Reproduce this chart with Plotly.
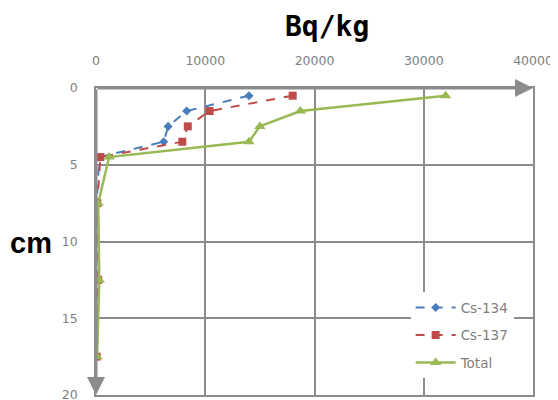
import plotly.graph_objects as go

depth = [0.5, 1.5, 2.5, 3.5, 4.5, 7.5, 12.5, 17.5]
cs134 = [14000, 8300, 6600, 6200, 300, 60, 40, 20]
cs137 = [18000, 10400, 8400, 7900, 400, 120, 200, 60]
total = [32000, 18700, 15000, 14000, 1200, 200, 300, 100]

x_ticks = [0, 10000, 20000, 30000, 40000]
y_ticks = [0, 5, 10, 15, 20]

GRID = "#8c8c8c"
TICKFONT = dict(family="DejaVu Sans", size=12.5, color="#7f7f7f")

fig = go.Figure()
fig.add_trace(go.Scatter(x=cs134, y=depth, name="Cs-134", mode="lines+markers",
                         legendgroup="a",
                         line=dict(color="#4a7ebb", width=2, dash="dash"),
                         marker=dict(symbol="diamond", size=7, color="#4a7ebb")))
fig.add_trace(go.Scatter(x=cs137, y=depth, name="Cs-137", mode="lines+markers",
                         legendgroup="b",
                         line=dict(color="#be4b48", width=2, dash="dash"),
                         marker=dict(symbol="square", size=8, color="#be4b48")))
fig.add_trace(go.Scatter(x=total, y=depth, name="Total", mode="lines+markers",
                         legendgroup="c",
                         line=dict(color="#98b954", width=2.5),
                         marker=dict(symbol="triangle-up", size=10, color="#98b954")))

# axis arrows
fig.add_annotation(x=40000, y=0, ax=0, ay=0, xref="x", yref="y", axref="x", ayref="y",
                   showarrow=True, arrowhead=2, arrowsize=1.2, arrowwidth=3,
                   arrowcolor=GRID, text="")
fig.add_annotation(x=0, y=20, ax=0, ay=0, xref="x", yref="y", axref="x", ayref="y",
                   showarrow=True, arrowhead=2, arrowsize=1.2, arrowwidth=3,
                   arrowcolor=GRID, text="")

fig.add_annotation(text="<b>Bq/kg</b>", xref="paper", yref="paper", x=0.528, y=1.0,
                   xanchor="center", yanchor="middle", yshift=62, showarrow=False,
                   font=dict(family="DejaVu Sans Mono", size=28, color="black"))
fig.add_annotation(text="<b>cm</b>", xref="paper", yref="paper", x=0, y=0.495,
                   xanchor="center", yanchor="middle", xshift=-65, showarrow=False,
                   font=dict(family="Liberation Sans", size=29, color="black"))

# page body has an 8px margin, so the figure is sized to fit inside the window
fig.update_layout(
    width=550, height=392,
    margin=dict(l=88, r=25, t=80, b=5, autoexpand=False),
    paper_bgcolor="white", plot_bgcolor="white",
    showlegend=True,
    legend=dict(x=0.72, y=0.335, xanchor="left", yanchor="top",
                bgcolor="white", font=dict(family="DejaVu Sans", size=13.5, color="#7f7f7f"),
                itemwidth=40, tracegroupgap=7),
    xaxis=dict(side="top", range=[0, 40000], tickvals=x_ticks,
               ticktext=[str(v) for v in x_ticks], automargin=False,
               showgrid=True, gridcolor=GRID, gridwidth=1.5,
               showline=True, mirror=True, linecolor=GRID, linewidth=1.5,
               zeroline=False, ticklabelstandoff=16, ticklabeloverflow="allow",
               ticks="", tickfont=TICKFONT),
    yaxis=dict(range=[20, 0], tickvals=y_ticks, ticktext=[str(v) for v in y_ticks],
               automargin=False,
               showgrid=True, gridcolor=GRID, gridwidth=1.5,
               showline=True, mirror=True, linecolor=GRID, linewidth=1.5,
               zeroline=False, ticklabelstandoff=14, ticklabeloverflow="allow",
               ticks="", tickfont=TICKFONT),
)

fig.write_html("out.html")
